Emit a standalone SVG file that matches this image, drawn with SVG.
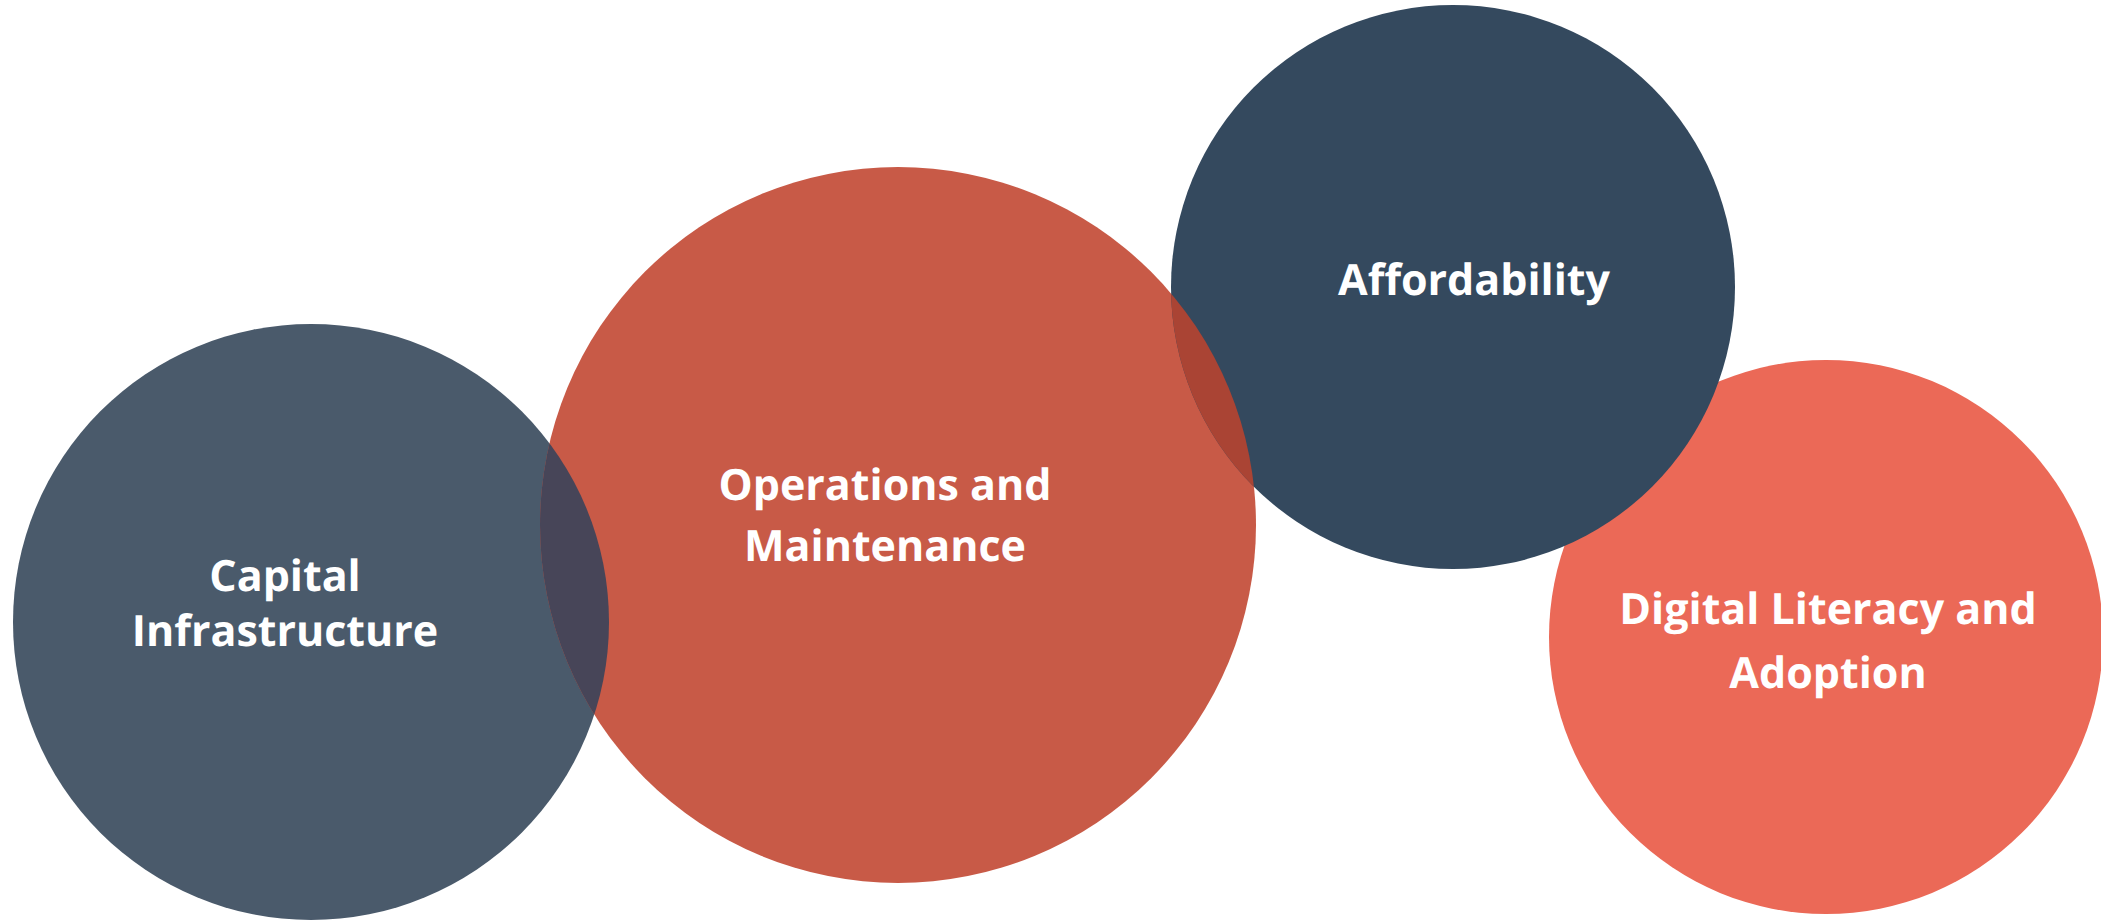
<svg xmlns="http://www.w3.org/2000/svg" width="2101" height="921" viewBox="0 0 2101 921">
<style>
.lbl{font-family:"Open Sans","Noto Sans","Liberation Sans",sans-serif;font-weight:700;font-size:43px;fill:#ffffff;text-anchor:middle;text-rendering:geometricPrecision}
</style>
<defs>
<clipPath id="clip2"><circle cx="898" cy="525" r="358"/></clipPath>
</defs>
<rect width="2101" height="921" fill="#ffffff"/>
<g id="capital">
<circle cx="311" cy="622" r="298" fill="#4a5a6b"/>
</g>
<g id="operations">
<circle cx="898" cy="525" r="358" fill="#c85a47"/>
</g>
<g id="digital">
<circle cx="1826" cy="637" r="277" fill="#eb6957"/>
</g>
<g id="affordability">
<circle cx="1453" cy="287" r="282" fill="#34495e"/>
</g>
<g id="overlaps" clip-path="url(#clip2)">
<circle cx="311" cy="622" r="298" fill="#474558"/>
<circle cx="1453" cy="287" r="282" fill="#aa4434"/>
</g>
<g id="labels">
<text class="lbl" x="285" y="591">Capital</text>
<text class="lbl" x="285" y="646">Infrastructure</text>
<text class="lbl" x="885" y="500">Operations and</text>
<text class="lbl" x="885" y="561">Maintenance</text>
<text class="lbl" x="1474" y="295">Affordability</text>
<text class="lbl" x="1828" y="624">Digital Literacy and</text>
<text class="lbl" x="1828" y="688">Adoption</text>
</g>
</svg>
